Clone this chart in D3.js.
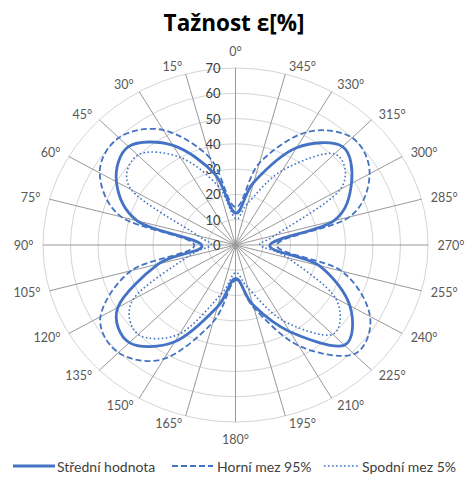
<!DOCTYPE html>
<html>
<head>
<meta charset="utf-8">
<script src="https://cdn.jsdelivr.net/npm/d3@7/dist/d3.min.js"></script>
<style>
  body { margin: 0; background: #fff; }
  svg { display: block; }
</style>
</head>
<body>
<svg id="chart" width="469" height="477"></svg>
<script>
// Direction of each spoke in degrees (counter-clockwise from the top)
const angles = [0, 15, 30, 45, 60, 75, 90, 105, 120, 135, 150, 165,
                180, 195, 210, 225, 240, 255, 270, 285, 300, 315, 330, 345];
const angleLabels = ["0°", "15°", "30°", "45°", "60°", "75°", "90°", "105°", "120°", "135°", "150°", "165°",
                     "180°", "195°", "210°", "225°", "240°", "255°", "270°", "285°", "300°", "315°", "330°", "345°"];
const radialTicks = [0, 10, 20, 30, 40, 50, 60, 70];
const seriesNames = ["Střední hodnota", "Horní mez 95%", "Spodní mez 5%"];

// Elongation [%] per direction
const stredni = [12.6, 29, 45.5, 55, 50, 37, 12.3, 29, 49.4, 54.6, 44.2, 25.3,
                 13.2, 24.5, 39.6, 56, 48, 31.5, 12.5, 37, 48.7, 55, 44.4, 25.7];
const horni   = [15, 35.5, 52.5, 60, 57, 43, 15, 39.3, 56.7, 60.2, 52, 31.5,
                 14, 25.7, 46, 61, 56.5, 40, 15, 43, 56.3, 60, 51.5, 33.5];
const spodni  = [10.5, 24, 40, 50.3, 43.8, 14, 9, 18, 43, 50, 40.5, 20,
                 11, 17.5, 34.5, 50, 42, 19.6, 9, 15, 44, 51, 34, 17];

const svg = d3.select("#chart");
const cx = 235.5, cy = 245, rx = 192.5, ry = 177;
const blue = "#4472C4";
const font = "Lato, 'Open Sans', sans-serif";

const rScale = d3.scaleLinear().domain([0, 70]).range([0, 1]);
const aScale = d3.scaleLinear().domain([0, 360]).range([0, 2 * Math.PI]);

const px = (a, v) => cx - rx * rScale(v) * Math.sin(aScale(a));
const py = (a, v) => cy - ry * rScale(v) * Math.cos(aScale(a));

// Title
svg.append("text")
  .attr("x", 234).attr("y", 22)
  .attr("text-anchor", "middle").attr("dominant-baseline", "central")
  .style("font-family", "'Open Sans', Lato, sans-serif").style("font-weight", "bold")
  .style("font-size", "22.5px").style("fill", "#000")
  .text("Tažnost ε[%]");

const grid = svg.append("g");

// Concentric rings
grid.selectAll("ellipse.ring")
  .data(radialTicks.filter(t => t > 0))
  .join("ellipse")
  .attr("class", "ring")
  .attr("cx", cx).attr("cy", cy)
  .attr("rx", d => rx * rScale(d)).attr("ry", d => ry * rScale(d))
  .attr("fill", "none").attr("stroke", "#d4d4d4").attr("stroke-width", 1);

// Spokes
grid.selectAll("line.spoke")
  .data(angles)
  .join("line")
  .attr("class", "spoke")
  .attr("x1", cx).attr("y1", cy)
  .attr("x2", d => px(d, 70)).attr("y2", d => py(d, 70))
  .attr("stroke", "#999999").attr("stroke-width", 1);

// Angle labels
grid.selectAll("text.alabel")
  .data(angles)
  .join("text")
  .attr("class", "alabel")
  .each(function (a, i) {
    const t = aScale(a);
    const ux = -Math.sin(t), uy = -Math.cos(t);
    const ex = px(a, 70), ey = py(a, 70);
    let anchor, x, y;
    if (Math.abs(ux) < 0.01) {
      anchor = "middle"; x = ex; y = ey + uy * 17;
    } else {
      anchor = ux < 0 ? "end" : "start";
      x = ex + ux * 8 + Math.sign(ux) * 1.5;
      y = ey + uy * 8;
    }
    d3.select(this)
      .attr("x", x).attr("y", y)
      .attr("text-anchor", anchor)
      .attr("dominant-baseline", "central")
      .text(angleLabels[i]);
  })
  .style("font-family", font).style("font-size", "12.5px").style("fill", "#595959");

// Radial value labels
grid.selectAll("text.rlabel")
  .data(radialTicks)
  .join("text")
  .attr("class", "rlabel")
  .attr("x", cx - 15)
  .attr("y", d => py(0, d))
  .attr("text-anchor", "end").attr("dominant-baseline", "central")
  .style("font-family", font).style("font-size", "13px").style("fill", "#404040")
  .text(d => d);

// Series
const series = [
  { name: seriesNames[0], values: stredni, width: 2.8, dash: null },
  { name: seriesNames[1], values: horni, width: 1.8, dash: "6,3" },
  { name: seriesNames[2], values: spodni, width: 1.6, dash: "1.6,2.4" }
];

const line = d3.line()
  .x(d => px(d.a, d.v))
  .y(d => py(d.a, d.v))
  .curve(d3.curveCardinalClosed.tension(0));

svg.append("g").selectAll("path.series")
  .data(series)
  .join("path")
  .attr("class", "series")
  .attr("d", s => line(angles.map((a, i) => ({ a, v: s.values[i] }))))
  .attr("fill", "none")
  .attr("stroke", blue)
  .attr("stroke-width", s => s.width)
  .attr("stroke-dasharray", s => s.dash);

// Legend
const legendItems = [
  { x0: 13, x1: 55, tx: 57 },
  { x0: 172, x1: 213, tx: 217 },
  { x0: 324, x1: 358, tx: 362 }
];
const ly = 466;
const legend = svg.append("g");
series.forEach((s, i) => {
  const it = legendItems[i];
  legend.append("line")
    .attr("x1", it.x0).attr("x2", it.x1).attr("y1", ly).attr("y2", ly)
    .attr("stroke", blue).attr("stroke-width", s.width)
    .attr("stroke-dasharray", s.dash);
  legend.append("text")
    .attr("x", it.tx).attr("y", ly)
    .attr("dominant-baseline", "central")
    .style("font-family", font).style("font-size", "14px").style("fill", "#404040")
    .text(s.name);
});
</script>
</body>
</html>
